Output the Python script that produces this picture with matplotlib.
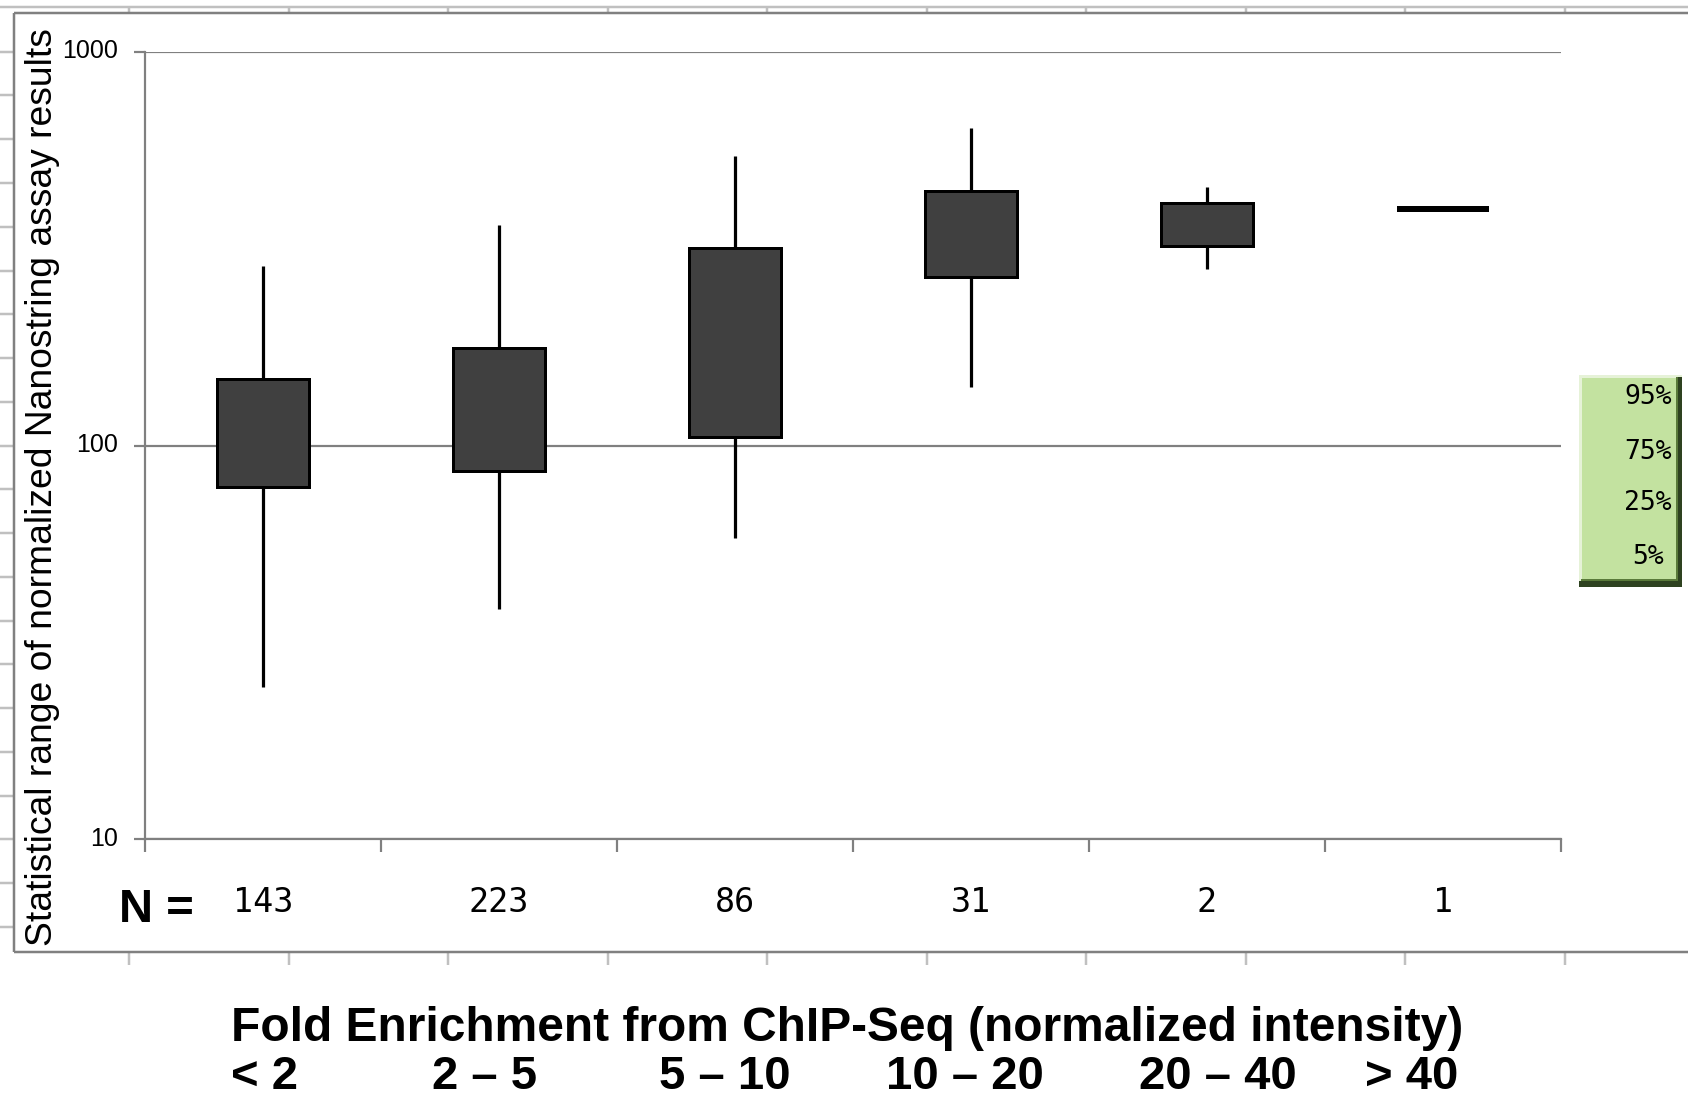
import matplotlib
matplotlib.use('Agg')
import matplotlib.pyplot as plt
from matplotlib import font_manager as fm, transforms
from matplotlib.lines import Line2D
from matplotlib.patches import Rectangle
from matplotlib.ticker import NullLocator, FixedLocator

# ---------------- data ----------------
categories = ['< 2', '2 – 5', '5 – 10', '10 – 20', '20 – 40', '> 40']
n_values = [143, 223, 86, 31, 2, 1]
p5 = [24.4, 38.4, 58.3, 141, 281, 399]
p25 = [78.6, 86.1, 105.3, 268, 321, 399]
p75 = [147.5, 177, 318, 443, 412, 399]
p95 = [286, 362, 543, 640, 453, 399]
y_ticks = [10, 100, 1000]
y_tick_labels = ['10', '100', '1000']
legend_labels = ['95%', '75%', '25%', '5%']
ylabel = 'Statistical range of normalized Nanostring assay results'
xlabel = 'Fold Enrichment from ChIP-Seq (normalized intensity)'

# ---------------- fonts ----------------
def has_font(name):
    try:
        fm.findfont(fm.FontProperties(family=name), fallback_to_default=False)
        return True
    except Exception:
        return False

NARROW = has_font('Liberation Sans Narrow')
SANS = 'Liberation Sans' if has_font('Liberation Sans') else 'DejaVu Sans'
MONO = 'DejaVu Sans Mono'

# ---------------- figure ----------------
W, H = 1688, 1099
DPI = 100
PT = 72.0 / DPI  # points per pixel
fig = plt.figure(figsize=(W / DPI, H / DPI), dpi=DPI)
fig.patch.set_facecolor('white')


def fx(x):
    return x / W


def fy(y):
    return 1 - y / H


GRAY = '#808080'
LIGHT = '#c0c0c0'

# decorative sheet rulers and outer frame
def fline(xs, ys, color, lw_px, z=1):
    fig.add_artist(Line2D([fx(v) for v in xs], [fy(v) for v in ys],
                          color=color, lw=lw_px * PT, zorder=z,
                          solid_capstyle='butt'))

fline([0, W], [6.7, 6.7], LIGHT, 2.5)
for k in range(11):
    xx = 129 + 159.5 * k
    fline([xx, xx], [6.7, 13.3], LIGHT, 2.5)
    fline([xx, xx], [951.7, 965], LIGHT, 2.5)
for k in range(21):
    yy = 51.7 + 43.76 * k
    fline([0, 14], [yy, yy], LIGHT, 2.5)
fline([14, W + 5], [13.3, 13.3], GRAY, 2.5, 2)
fline([14, 14], [13.3, 951.7], GRAY, 2.5, 2)
fline([14, W + 5], [951.7, 951.7], GRAY, 2.5, 2)

# ---------------- axes ----------------
ax = fig.add_axes([fx(145), fy(839.3), fx(1561) - fx(145), fy(51.7) - fy(839.3)])
ax.set_facecolor('none')
ax.set_yscale('log')
ax.set_ylim(10, 1000)
ax.set_xlim(0.5, len(categories) + 0.5)

for s in ['top', 'right']:
    ax.spines[s].set_visible(False)
for s in ['left', 'bottom']:
    ax.spines[s].set_color(GRAY)
    ax.spines[s].set_linewidth(2.2 * PT)

ax.yaxis.set_major_locator(FixedLocator(y_ticks))
ax.yaxis.set_minor_locator(NullLocator())
ax.set_yticklabels(y_tick_labels)
ax.xaxis.set_major_locator(FixedLocator([i + 0.5 for i in range(len(categories) + 1)]))
ax.xaxis.set_minor_locator(NullLocator())
ax.set_xticklabels([])
ax.tick_params(axis='y', which='major', direction='out', length=10.7 * PT,
               width=2.2 * PT, color=GRAY, pad=16 * PT)
ax.tick_params(axis='x', which='major', direction='out', length=13 * PT,
               width=2.2 * PT, color=GRAY)
ax.grid(True, axis='y', which='major', color=GRAY, lw=2.2 * PT, zorder=0)
ax.set_axisbelow(True)

for lab in ax.get_yticklabels():
    if NARROW:
        lab.set_fontfamily('Liberation Sans Narrow')
        lab.set_fontsize(20)
    else:
        lab.set_fontfamily(SANS)
        lab.set_fontsize(18)
    lab.set_transform(lab.get_transform() + transforms.Affine2D().translate(0, 3))

# ---------------- boxes ----------------
xpos = list(range(1, len(categories) + 1))
BOXW = 0.39
heights = [hi - lo for lo, hi in zip(p25, p75)]
ax.vlines(xpos, p5, p25, color='black', lw=3.2 * PT, zorder=2)
ax.vlines(xpos, p75, p95, color='black', lw=3.2 * PT, zorder=2)
flat = [h <= 0 for h in heights]
bx = [x for x, f in zip(xpos, flat) if not f]
ax.bar(bx, [h for h, f in zip(heights, flat) if not f],
       bottom=[b for b, f in zip(p25, flat) if not f], width=BOXW,
       color='#404040', edgecolor='black', linewidth=3 * PT, zorder=3)
for x, y, f in zip(xpos, p25, flat):
    if f:
        ax.hlines(y, x - BOXW / 2, x + BOXW / 2, color='black', lw=6 * PT, zorder=3)

# ---------------- texts ----------------
if NARROW:
    fig.text(fx(52), fy(487), ylabel, rotation=90, rotation_mode='anchor',
             ha='center', va='baseline', fontsize=29,
             family='Liberation Sans Narrow')
else:
    fig.text(fx(52), fy(487), ylabel, rotation=90, rotation_mode='anchor',
             ha='center', va='baseline', fontsize=26.8, family=SANS)

fig.text(fx(119), fy(922), 'N =', ha='left', va='baseline', fontsize=34,
         fontweight='bold', family=SANS)
trans_n = transforms.blended_transform_factory(ax.transData, fig.transFigure)
for x, n in zip(xpos, n_values):
    ax.text(x, fy(912), str(n), transform=trans_n, ha='center', va='baseline',
            fontsize=24, family=MONO, clip_on=False)

fig.text(fx(847.5), fy(1041), xlabel, ha='center', va='baseline', fontsize=34.5,
         fontweight='bold', family=SANS)
cat_left = [231, 432, 659, 886, 1139, 1365]
for xl, c in zip(cat_left, categories):
    fig.text(fx(xl), fy(1089), c, ha='left', va='baseline', fontsize=34,
             fontweight='bold', family=SANS)

# ---------------- legend key ----------------
def frect(x0, y0, x1, y1, color, z=5):
    fig.add_artist(Rectangle((fx(x0), fy(y1)), fx(x1) - fx(x0), fy(y0) - fy(y1),
                             transform=fig.transFigure, facecolor=color,
                             edgecolor='none', zorder=z))

frect(1579, 375, 1682, 587, '#c3e2a0')
frect(1579, 375, 1682, 378, '#e6f2d8', 6)
frect(1579, 375, 1582, 587, '#e6f2d8', 6)
frect(1676, 377, 1682, 587, '#2e4220', 7)
frect(1579, 581, 1682, 587, '#2e4220', 7)
frect(1676, 377, 1678, 581, '#5a7a3a', 7)
frect(1581, 579, 1678, 581, '#5a7a3a', 7)
for yy, lab in zip([397, 452, 503, 557], legend_labels):
    fig.text(fx(1648), fy(yy), lab, ha='center', va='center', fontsize=19,
             family=MONO, zorder=8)

fig.savefig('out.png', dpi=DPI, facecolor='white')
